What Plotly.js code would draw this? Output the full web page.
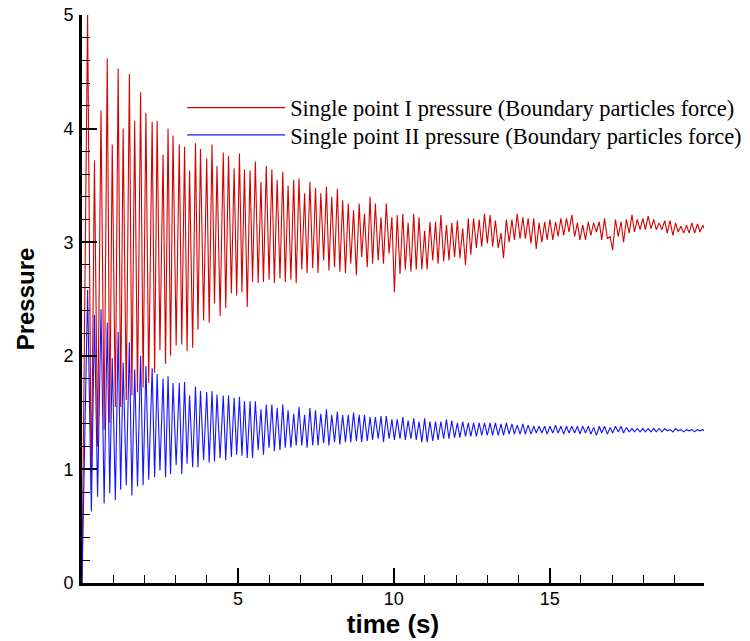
<!DOCTYPE html>
<html><head><meta charset="utf-8">
<script src="https://cdn.plot.ly/plotly-3.0.1.min.js"></script>
<style>html,body{margin:0;padding:0;background:#fff}#chart{width:750px;height:641px}</style>
</head><body><div id="chart"></div>
<script>
// ---- data (extremes of each oscillation) ----
const seriesNames = [
  "Single point I pressure (Boundary particles force)",
  "Single point II pressure (Boundary particles force)"
];
const tStart = 0.0;
const redStart = 0.0;
const blueStart = 0.0;

const tPeak = [
  0.18,0.40,0.61,0.81,0.97,1.16,1.32,1.52,1.69,1.88,2.05,2.25,2.41,2.60,2.76,2.92,3.12,3.29,3.45,3.64,
  3.80,4.00,4.17,4.33,4.53,4.70,4.88,5.05,5.21,
  5.39,5.56,5.74,5.91,6.09,6.26,6.44,6.61,6.79,6.96,7.14,7.31,7.49,7.66,7.84,8.01,8.19,8.36,8.54,8.71,
  8.89,9.06,9.24,9.41,9.59,9.76,9.94,10.11,10.29,10.46,10.64,10.81,10.99,11.16,11.34,11.51,11.69,11.86,12.04,12.21,
  12.39,12.56,12.74,12.91,13.09,13.26,13.44,13.61,13.79,13.96,14.14,14.31,14.49,14.66,14.84,15.01,15.19,15.36,15.54,15.71,
  15.89,16.06,16.24,16.41,16.59,16.76,16.94,17.11,17.29,17.46,17.64,17.81,17.99,18.16,18.34,18.51,18.69,18.86,19.04,19.21,
  19.39,19.56,19.74,19.91
];
const tTrough = [
  0.30,0.50,0.71,0.89,1.07,1.24,1.42,1.60,1.78,1.96,2.14,2.33,2.50,2.68,2.84,3.02,3.20,3.37,3.55,3.72,
  3.90,4.08,4.25,4.43,4.61,4.79,4.96,5.13,5.30,
  5.47,5.65,5.82,6.00,6.17,6.35,6.52,6.70,6.87,7.05,7.22,7.40,7.57,7.75,7.92,8.10,8.27,8.45,8.62,8.80,
  8.97,9.15,9.32,9.50,9.67,9.85,10.02,10.20,10.37,10.55,10.72,10.90,11.07,11.25,11.42,11.60,11.77,11.95,12.12,12.30,
  12.47,12.65,12.82,13.00,13.17,13.35,13.52,13.70,13.87,14.05,14.22,14.40,14.57,14.75,14.92,15.10,15.27,15.45,15.62,15.80,
  15.97,16.15,16.32,16.50,16.67,16.85,17.02,17.20,17.37,17.55,17.72,17.90,18.07,18.25,18.42,18.60,18.77,18.95,19.12,19.30,
  19.47,19.65,19.82,19.95
];
const redPeak = [
  5.00,3.72,4.16,4.62,3.86,4.53,4.00,4.48,4.07,4.32,4.14,4.06,4.07,3.77,4.00,3.94,3.86,3.84,3.63,3.87,
  3.82,3.74,3.86,3.67,3.79,3.76,3.65,3.78,3.64,
  3.63,3.71,3.53,3.67,3.64,3.55,3.62,3.50,3.55,3.56,3.43,3.53,3.48,3.43,3.49,3.40,3.47,3.37,3.34,3.28,
  3.34,3.25,3.40,3.34,3.22,3.34,3.22,3.24,3.25,3.17,
  3.25,3.22,3.10,3.18,3.18,3.24,3.15,3.17,3.19,3.12,3.21,3.21,3.20,3.25,3.24,3.19,3.08,3.20,3.20,3.25,
  3.22,3.21,3.21,3.17,3.18,3.20,3.18,3.21,3.21,3.24,3.17,3.15,3.18,3.17,3.18,3.21,3.05,3.20,3.18,3.20,
  3.24,3.20,3.21,3.23,3.20,3.17,3.19,3.19,3.17,3.14,3.15,3.17,3.16,3.15
];
const redTrough = [
  0.80,1.20,1.35,1.41,1.55,1.55,1.61,1.65,1.68,1.72,1.76,1.85,2.05,1.93,2.00,2.09,2.10,2.04,2.07,2.23,
  2.31,2.29,2.46,2.35,2.42,2.55,2.53,2.56,2.43,
  2.65,2.64,2.65,2.67,2.64,2.68,2.65,2.67,2.64,2.76,2.73,2.77,2.73,2.84,2.75,2.78,2.74,2.73,2.81,2.71,
  2.87,2.78,2.81,2.84,2.81,2.90,2.56,2.72,2.76,2.74,2.76,
  2.76,2.76,2.84,2.81,2.83,2.84,2.87,2.86,2.80,2.89,2.95,2.96,2.99,2.96,2.95,2.86,3.00,3.02,3.03,3.03,
  2.99,2.94,3.00,3.02,3.02,3.05,3.06,3.09,3.05,3.02,3.02,3.06,3.09,3.02,3.03,2.93,3.05,3.00,3.08,3.09,
  3.11,3.11,3.12,3.11,3.11,3.08,3.06,3.09,3.08,3.08,3.08,3.09,3.12
];
const bluePeak = [
  2.58,2.36,2.41,2.29,1.98,2.21,1.94,2.12,1.88,2.00,1.91,1.89,1.84,1.80,1.82,1.76,1.76,1.77,1.65,1.73,
  1.69,1.68,1.69,1.66,1.65,1.65,1.63,1.64,1.60,
  1.60,1.60,1.53,1.57,1.57,1.54,1.57,1.52,1.49,1.55,1.48,1.54,1.52,1.49,1.53,1.48,1.51,1.48,1.48,1.50,
  1.48,1.48,1.46,1.46,1.47,1.47,1.44,1.44,1.46,1.43,1.45,1.42,
  1.45,1.42,1.42,1.42,1.44,1.43,1.41,1.42,1.41,1.41,1.41,1.41,1.41,1.41,1.40,1.41,1.40,1.39,1.40,1.39,
  1.38,1.38,1.38,1.38,1.39,1.38,1.38,1.38,1.38,1.38,1.38,1.37,1.38,1.38,1.37,1.38,1.38,1.37,1.36,1.36,
  1.36,1.36,1.36,1.36,1.36,1.35,1.36,1.35,1.35,1.35,1.35,1.35
];
const blueTrough = [
  0.63,0.76,0.70,0.79,0.73,0.82,0.86,0.77,0.85,0.86,0.91,0.93,0.99,0.93,0.96,1.04,0.96,1.05,1.02,1.02,
  1.08,1.06,1.07,1.10,1.08,1.11,1.13,1.12,1.10,
  1.10,1.17,1.13,1.19,1.16,1.17,1.19,1.19,1.21,1.21,1.19,1.21,1.21,1.23,1.21,1.24,1.22,1.24,1.24,1.25,
  1.24,1.25,1.26,1.27,1.24,1.27,1.26,1.27,1.26,1.27,1.26,
  1.24,1.24,1.25,1.26,1.27,1.27,1.28,1.28,1.29,1.29,1.29,1.30,1.30,1.30,1.30,1.30,1.31,1.31,1.31,1.31,
  1.31,1.32,1.32,1.31,1.32,1.32,1.31,1.32,1.32,1.31,1.32,1.31,1.30,1.32,1.31,1.32,1.33,1.32,1.33,1.33,
  1.33,1.33,1.33,1.33,1.33,1.34,1.33,1.34,1.33,1.34,1.33,1.34,1.34
];
const xMinorTicks = [1,2,3,4,6,7,8,9,11,12,13,14,16,17,18,19];
const xMajorTicks = [5,10,15];

// assemble polyline: start, peak, trough, peak, trough ...
function assemble(t0, v0, peaks, troughs) {
  const x = [t0], y = [v0];
  const n = Math.max(peaks.length, troughs.length);
  for (let i = 0; i < n; i++) {
    if (i < peaks.length) { x.push(tPeak[i]); y.push(peaks[i]); }
    if (i < troughs.length) { x.push(tTrough[i]); y.push(troughs[i]); }
  }
  return {x, y};
}
const red = assemble(tStart, redStart, redPeak, redTrough);
const blue = assemble(tStart, blueStart, bluePeak, blueTrough);

const traces = [
  {x: red.x, y: red.y, type: 'scatter', mode: 'lines', name: seriesNames[0], legend: 'legend',
   line: {color: 'rgb(215,0,0)', width: 1.1}},
  {x: blue.x, y: blue.y, type: 'scatter', mode: 'lines', name: seriesNames[1], legend: 'legend2',
   line: {color: 'rgb(20,20,255)', width: 1.1}}
];

const axisFont = {family: 'Liberation Sans, Arial, sans-serif', size: 18, color: '#000'};
const legendFont = {family: 'Liberation Serif, Times New Roman, serif', size: 22.4, color: '#000'};

const layout = {
  width: 750, height: 641,
  margin: {l: 82, r: 46, t: 15, b: 58, autoexpand: false},
  paper_bgcolor: '#fff', plot_bgcolor: '#fff',
  showlegend: true,
  legend: {
    x: 0.161, y: 0.874, xanchor: 'left', yanchor: 'top',
    font: legendFont, bgcolor: 'rgba(0,0,0,0)', borderwidth: 0, itemwidth: 98
  },
  legend2: {
    x: 0.161, y: 0.826, xanchor: 'left', yanchor: 'top',
    font: legendFont, bgcolor: 'rgba(0,0,0,0)', borderwidth: 0, itemwidth: 98
  },
  xaxis: {
    range: [0, 19.95], showgrid: false, zeroline: false,
    showline: true, linewidth: 3, linecolor: '#000',
    tickmode: 'array', tickvals: xMajorTicks, ticktext: xMajorTicks.map(String),
    ticks: 'inside', ticklen: 15, tickwidth: 2, tickcolor: '#000',
    minor: {tickmode: 'array', tickvals: xMinorTicks, ticks: 'inside', ticklen: 8, tickwidth: 1, tickcolor: '#000'},
    tickfont: axisFont, ticklabelstandoff: -3,
    title: {text: 'time (s)', font: {family: 'Liberation Sans, Arial, sans-serif', size: 26, color: '#000', weight: 'bold'}, standoff: 1}
  },
  yaxis: {
    range: [0, 5], showgrid: false, zeroline: false,
    showline: true, linewidth: 3, linecolor: '#000',
    tickmode: 'linear', tick0: 0, dtick: 1,
    ticks: 'inside', ticklen: 15, tickwidth: 2, tickcolor: '#000',
    minor: {tick0: 0, dtick: 0.2, ticks: 'inside', ticklen: 8, tickwidth: 1, tickcolor: '#000'},
    tickfont: axisFont, ticklabelstandoff: 2,
    title: {text: 'Pressure', font: {family: 'Liberation Sans, Arial, sans-serif', size: 24, color: '#000', weight: 'bold'}, standoff: 22}
  }
};

Plotly.newPlot('chart', traces, layout, {displayModeBar: false, staticPlot: true});
</script>
</body></html>
